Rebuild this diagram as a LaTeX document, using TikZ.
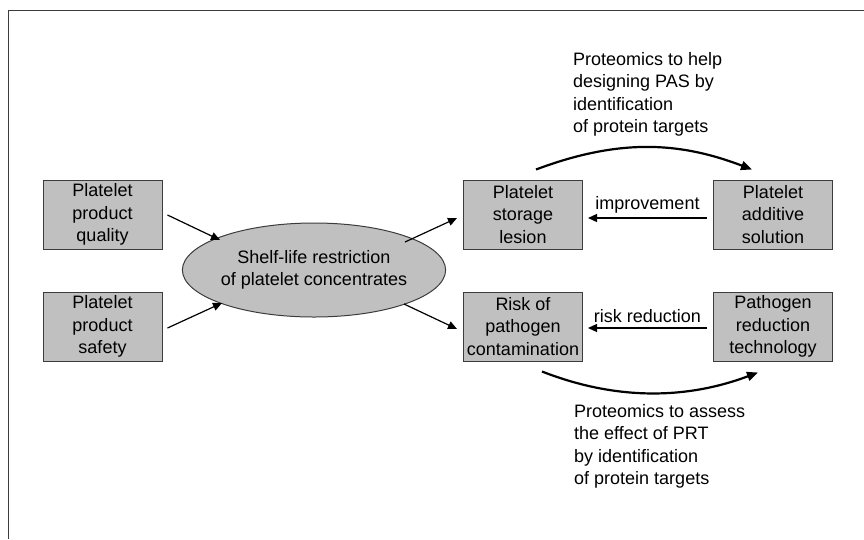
\documentclass[tikz,border=0pt]{standalone}
\usepackage{fontspec}
\setmainfont{Liberation Sans}
\usetikzlibrary{arrows.meta,shapes.geometric,calc}
\definecolor{boxfill}{RGB}{192,192,192}
\definecolor{edgecol}{RGB}{60,60,60}
\tikzset{
  txt/.style={font=\fontsize{18}{22.5}\selectfont, text=black},
  box/.style={txt, draw=edgecol, line width=1pt, fill=boxfill, minimum width=119pt, minimum height=69pt, inner sep=0pt, align=center},
  ell/.style={txt, ellipse, draw=edgecol, line width=1pt, fill=boxfill, minimum width=208pt, minimum height=94pt, inner sep=0pt, align=center},
  arr/.style={line width=1.2pt, -{Triangle[length=9pt,width=8pt]}},
  carr/.style={line width=2.2pt, -{Triangle[length=11pt,width=9pt]}},
  note/.style={txt, align=left, anchor=north west, inner sep=0pt}
}
\begin{document}
\begin{tikzpicture}[x=1pt,y=-1pt]
\useasboundingbox (0,0) rectangle (864,539);
\draw[edgecol, line width=1pt] (864,10.5) -- (8,10.5) -- (8,539);

\node[box] (q) at (102.5,214.5) {Platelet\\product\\quality};
\node[box] (s) at (102.5,326.5) {Platelet\\product\\safety};
\node[ell] (e) at (314,270) {Shelf-life restriction\\of platelet concentrates};
\node[box] (l) at (523,214.5) {Platelet\\storage\\lesion};
\node[box] (p) at (773,214.5) {Platelet\\additive\\solution};
\node[box] (r) at (523,326.5) {Risk of\\pathogen\\contamination};
\node[box] (t) at (773,326.5) {Pathogen\\reduction\\technology};

\draw[arr] ($(q.east)+(5,0.5)$) -- ($(e.center)+(-94,-30)$);
\draw[arr] ($(s.east)+(5,1.5)$) -- ($(e.center)+(-92,33)$);
\draw[arr] ($(e.center)+(91,-28)$) -- ($(l.west)+(-6,3.5)$);
\draw[arr] ($(e.center)+(90,34)$) -- ($(r.west)+(-6,2.5)$);

\draw[arr] ($(p.west)+(-6,3.5)$) -- node[txt, above=1pt] {improvement} ($(l.east)+(5,3.5)$);
\draw[arr] ($(t.west)+(-6,1.5)$) -- node[txt, above=1pt] {risk reduction} ($(r.east)+(5,1.5)$);

\draw[carr] ($(l.north)+(13,-10)$) .. controls (620,138) and (680,142) .. ($(p.north)+(-21,-10)$);
\draw[carr] ($(r.south)+(19,10)$) .. controls (620,402) and (690,398) .. ($(t.south)+(-15,11)$);

\node[note] (n1) at (573,52) {Proteomics to help\\designing PAS by\\identification\\of protein targets};
\node[note] (n2) at (574,404) {Proteomics to assess\\the effect of PRT\\by identification\\of protein targets};
\end{tikzpicture}
\end{document}
